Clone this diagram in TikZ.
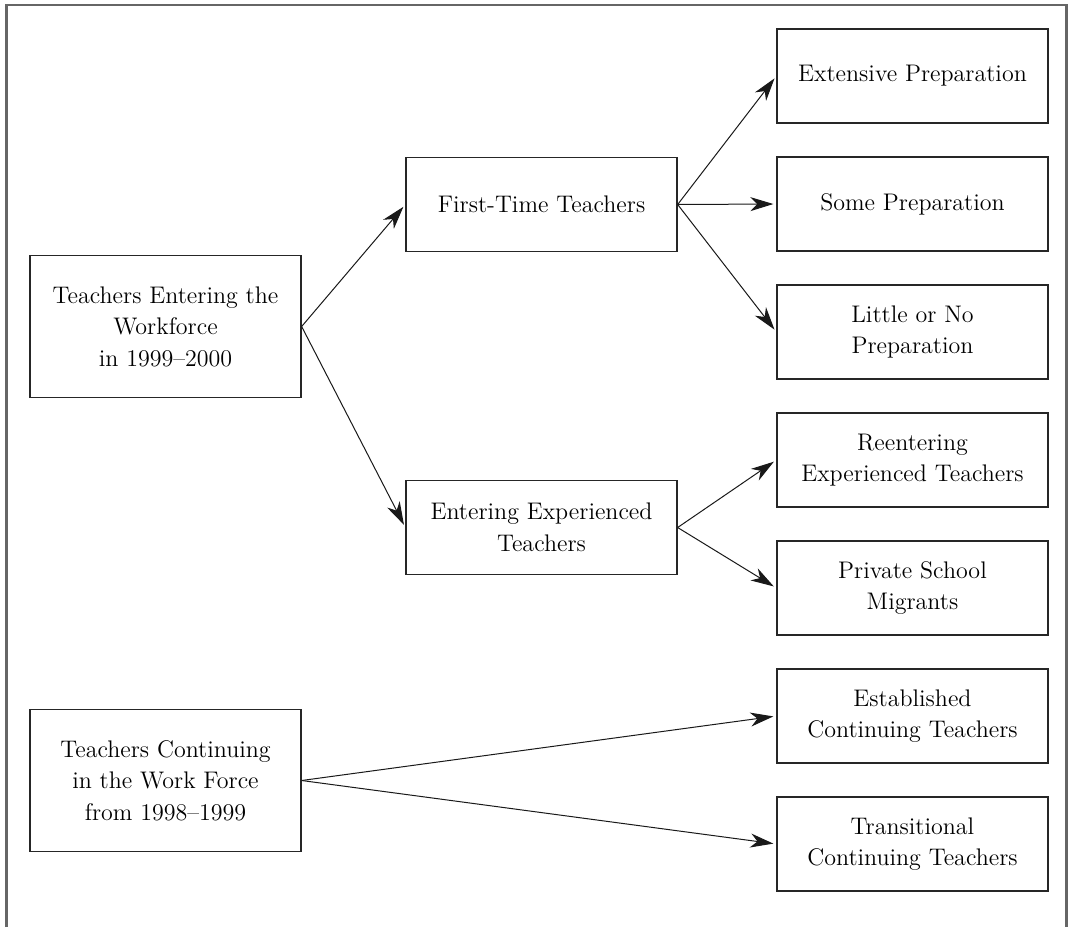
\documentclass[tikz,border=0pt]{standalone}
\usetikzlibrary{arrows.meta}
\begin{document}
\begin{tikzpicture}[x=0.5pt,y=-0.5pt,
  box/.style={draw=black!85, line width=0.65pt, minimum width=135.5pt,
    minimum height=47pt, inner sep=0pt, align=center,
    font=\fontsize{12}{15.75}\selectfont},
  bigbox/.style={box, minimum height=71pt},
  arr/.style={-{Stealth[length=11.5pt,width=7pt,inset=3.5pt]}, line width=0.5pt,
    black!90, shorten >=1.5pt}]
\useasboundingbox (0,0) rectangle (1071,927);
\draw[black!60, line width=1.2pt] (6.5,927) |- (1066.5,5) -- (1066.5,927);
\node[bigbox] (enter) at (165.5,326.5) {Teachers Entering the\\Workforce\\in 1999--2000};
\node[bigbox] (cont) at (165.5,780.5) {Teachers Continuing\\in the Work Force\\from 1998--1999};
\node[box] (first) at (541.5,204.5) {First-Time Teachers};
\node[box] (exper) at (541.5,527.5) {Entering Experienced\\Teachers};
\foreach \t [count=\i from 0] in {Extensive Preparation, Some Preparation,
    {Little or No\\Preparation}, {Reentering\\Experienced Teachers},
    {Private School\\Migrants}, {Established\\Continuing Teachers},
    {Transitional\\Continuing Teachers}}
  \node[box] (r\i) at (912.5,{76+128*\i}) {\t};
\foreach \a/\b in {enter/first, enter/exper, first/r0, first/r1, first/r2,
    exper/r3, exper/r4, cont/r5, cont/r6}
  \draw[arr] (\a.east) -- (\b.west);
\end{tikzpicture}
\end{document}
